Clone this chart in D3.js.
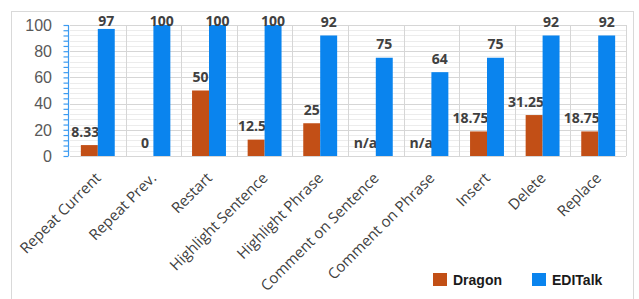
<!DOCTYPE html>
<html><head><meta charset="utf-8">
<script src="https://cdn.jsdelivr.net/npm/d3@7"></script>
<style>html,body{margin:0;padding:0;background:#fff;}svg{display:block;}</style>
</head><body>
<script>
const categories = ["Repeat Current","Repeat Prev.","Restart","Highlight Sentence","Highlight Phrase","Comment on Sentence","Comment on Phrase","Insert","Delete","Replace"];
const seriesNames = ["Dragon","EDITalk"];
const dragonValues = [8.33, 0, 50, 12.5, 25, null, null, 18.75, 31.25, 18.75];
const dragonLabels = ["8.33","0","50","12.5","25","n/a","n/a","18.75","31.25","18.75"];
const editalkValues = [97, 100, 100, 100, 92, 75, 64, 75, 92, 92];
const editalkLabels = ["97","100","100","100","92","75","64","75","92","92"];
const yTicks = [0, 20, 40, 60, 80, 100];
const colors = {Dragon: "#C24F16", EDITalk: "#0A84EE"};

(function () {
const W = 639, H = 299;
const svg = d3.select("body").append("svg").attr("width", W).attr("height", H);

// chart border
svg.append("rect").attr("x", 11.5).attr("y", 11.5).attr("width", 622).attr("height", 290)
  .attr("fill", "#fff").attr("stroke", "#d9d9d9");

const pL = 70, pR = 626, pT = 25, pB = 156;
const x = d3.scaleBand().domain(categories).range([pL, pR]).paddingInner(0).paddingOuter(0);
const x1 = d3.scaleBand().domain(seriesNames).range([0, x.bandwidth()]).paddingInner(0).paddingOuter(0.64);
const y = d3.scaleLinear().domain([0, 100]).range([pB, pT]);

// minor gridlines
const minor = d3.range(0, 101, 4);
svg.append("g").selectAll("line").data(minor).join("line")
  .attr("x1", pL).attr("x2", pR)
  .attr("y1", d => Math.round(y(d)) + 0.5).attr("y2", d => Math.round(y(d)) + 0.5)
  .attr("stroke", "#ececec");
// major gridlines
svg.append("g").selectAll("line").data(yTicks).join("line")
  .attr("x1", pL).attr("x2", pR)
  .attr("y1", d => Math.round(y(d)) + 0.5).attr("y2", d => Math.round(y(d)) + 0.5)
  .attr("stroke", "#d6d6d6");
// vertical gridlines at category boundaries
const bounds = categories.map(c => x(c)).concat([pR]);
svg.append("g").selectAll("line").data(bounds.slice(1)).join("line")
  .attr("x1", d => Math.round(d) + 0.5).attr("x2", d => Math.round(d) + 0.5)
  .attr("y1", pT).attr("y2", pB)
  .attr("stroke", "#d6d6d6");

// y axis with minor ticks
const yAxis = d3.axisLeft(y).tickValues(minor).tickSize(5).tickFormat("");
const ya = svg.append("g").attr("transform", `translate(${pL - 1.5},0)`).call(yAxis);
ya.selectAll("path,line").attr("stroke", "#3d9bf0").attr("stroke-width", 1.2);
ya.select(".domain").attr("d", `M0,${pT}V${pB}`);

// y tick labels
svg.append("g").selectAll("text").data(yTicks).join("text")
  .attr("x", 52).attr("y", d => y(d)).attr("dy", "0.36em")
  .attr("text-anchor", "end")
  .attr("font-family", "Liberation Sans, Arial, sans-serif").attr("font-size", 16)
  .attr("fill", "#595959").text(d => d);

// value labels for Dragon (drawn before bars so EDITalk bars overlap)
const lblFont = "Open Sans, sans-serif";
const dragonG = svg.append("g");
categories.forEach((c, i) => {
  const bx = x(c) + x1("Dragon"), bw = x1.bandwidth();
  const v = dragonValues[i];
  const t = dragonG.append("text")
    .attr("font-family", lblFont).attr("font-weight", "bold").attr("font-size", 14)
    .attr("fill", "#404040").text(dragonLabels[i]);
  const tw = t.node().getComputedTextLength();
  const cx = Math.min(bx + bw / 2, bx + bw + 1.5 - tw / 2);
  t.attr("x", cx).attr("text-anchor", "middle")
   .attr("y", Math.max(y(v == null ? 0 : v) - 8.5, 26));
});

// bars
svg.append("g").selectAll("rect").data(categories).join("rect")
  .attr("x", c => x(c) + x1("Dragon")).attr("width", x1.bandwidth())
  .attr("y", (c, i) => y(dragonValues[i] || 0))
  .attr("height", (c, i) => pB - y(dragonValues[i] || 0))
  .attr("fill", colors.Dragon);
svg.append("g").selectAll("rect").data(categories).join("rect")
  .attr("x", c => x(c) + x1("EDITalk")).attr("width", x1.bandwidth())
  .attr("y", (c, i) => y(editalkValues[i]))
  .attr("height", (c, i) => pB - y(editalkValues[i]))
  .attr("fill", colors.EDITalk);

// EDITalk labels
svg.append("g").selectAll("text").data(categories).join("text")
  .attr("x", c => x(c) + x1("EDITalk") + x1.bandwidth() / 2)
  .attr("y", (c, i) => Math.max(y(editalkValues[i]) - 8.5, 26))
  .attr("text-anchor", "middle")
  .attr("font-family", lblFont).attr("font-weight", "bold").attr("font-size", 14)
  .attr("fill", "#404040").text((c, i) => editalkLabels[i]);

// x category labels
svg.append("g").selectAll("text").data(categories).join("text")
  .attr("transform", c => `translate(${x(c) + x.bandwidth() / 2 + 4},${179}) rotate(-45)`)
  .attr("text-anchor", "end")
  .attr("font-family", "Open Sans, sans-serif").attr("font-size", 15)
  .attr("fill", "#404040").text(c => c);

// legend
const legendX = [433, 532];
const lg = svg.append("g");
seriesNames.forEach((s, i) => {
  lg.append("rect").attr("x", legendX[i]).attr("y", 273).attr("width", 14).attr("height", 13).attr("fill", colors[s]);
  lg.append("text").attr("x", legendX[i] + 20).attr("y", 284.5)
    .attr("font-family", "Liberation Sans, Arial, sans-serif").attr("font-weight", "bold").attr("font-size", 14)
    .attr("fill", "#1a1a1a").text(s);
});
})();
</script>
</body></html>
